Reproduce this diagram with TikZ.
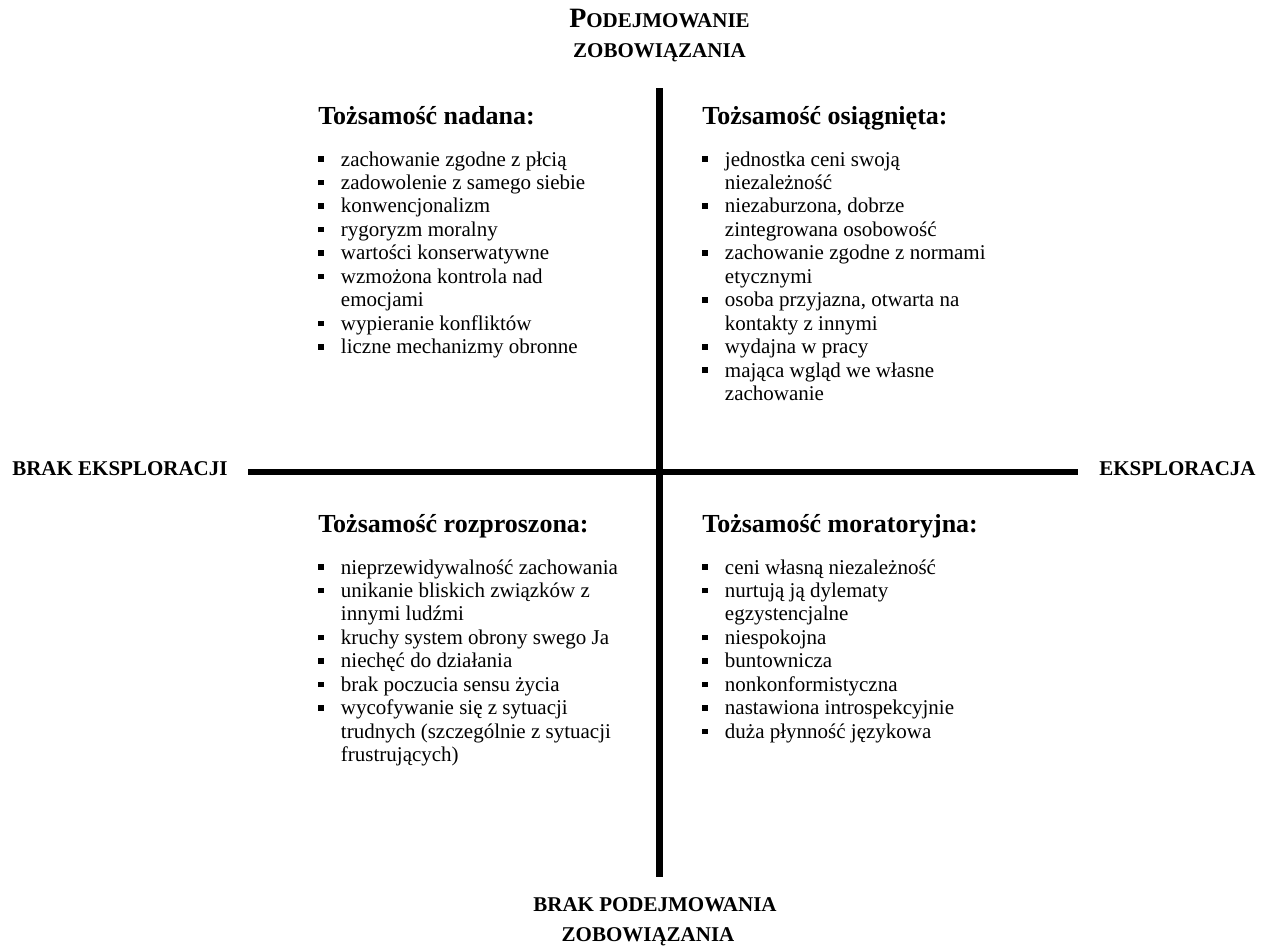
\documentclass[tikz,border=0pt]{standalone}
\usepackage{fontspec}
\setmainfont{Liberation Serif}
\usepackage{array}

% small square bullet
\newcommand{\sqb}{\rule[3.1pt]{4.2pt}{4.2pt}}
\newcommand{\itm}[1]{\sqb & #1\\}
\newcommand{\cnt}[1]{ & #1\\}
\newenvironment{blist}{\fontsize{15.75pt}{17.6pt}\selectfont\begin{tabular}[t]{@{}p{17pt}@{}l@{}}}{\end{tabular}}

\tikzset{
  axis/.style={line width=4.8pt},
  head/.style={anchor=base west, inner sep=0pt, font=\fontsize{19.5pt}{23pt}\selectfont\bfseries},
  lst/.style={anchor=base west, inner sep=0pt},
  axlabel/.style={inner sep=0pt, font=\fontsize{15.75pt}{18pt}\selectfont\bfseries},
}

\begin{document}
\begin{tikzpicture}[x=0.75pt, y=-0.75pt]
\useasboundingbox (0,0) rectangle (1266,946);

% axis ends
\coordinate (vTop) at (659.5,88);
\coordinate (vBot) at (659.5,877);
\coordinate (hLeft) at (248,472);
\coordinate (hRight) at (1078,472);

\draw[axis] (vTop) -- (vBot);
\draw[axis] (hLeft) -- (hRight);

% axis labels
\node[axlabel, anchor=base] (topA) at (659.5,27) {{\fontsize{21pt}{24pt}\selectfont P}ODEJMOWANIE};
\node[axlabel, anchor=base] (topB) at (659.5,57) {ZOBOWIĄZANIA};
\node[axlabel, anchor=base] (botA) at (655,911) {BRAK PODEJMOWANIA};
\node[axlabel, anchor=base] (botB) at (648,941) {ZOBOWIĄZANIA};
\node[axlabel, anchor=base west] (leftL) at (12,475) {BRAK EKSPLORACJI};
\node[axlabel, anchor=base west] (rightL) at (1099,475) {EKSPLORACJA};

% upper left quadrant
\node[head] (hTL) at (318,124) {Tożsamość nadana:};
\node[lst] (lTL) at (318,166) {\begin{blist}
\itm{zachowanie zgodne z płcią}
\itm{zadowolenie z samego siebie}
\itm{konwencjonalizm}
\itm{rygoryzm moralny}
\itm{wartości konserwatywne}
\itm{wzmożona kontrola nad}
\cnt{emocjami}
\itm{wypieranie konfliktów}
\itm{liczne mechanizmy obronne}
\end{blist}};

% upper right quadrant
\node[head] (hTR) at (702,124) {Tożsamość osiągnięta:};
\node[lst] (lTR) at (702,166) {\begin{blist}
\itm{jednostka ceni swoją}
\cnt{niezależność}
\itm{niezaburzona, dobrze}
\cnt{zintegrowana osobowość}
\itm{zachowanie zgodne z normami}
\cnt{etycznymi}
\itm{osoba przyjazna, otwarta na}
\cnt{kontakty z innymi}
\itm{wydajna w pracy}
\itm{mająca wgląd we własne}
\cnt{zachowanie}
\end{blist}};

% lower left quadrant
\node[head] (hBL) at (318,532) {Tożsamość rozproszona:};
\node[lst] (lBL) at (318,574) {\begin{blist}
\itm{nieprzewidywalność zachowania}
\itm{unikanie bliskich związków z}
\cnt{innymi ludźmi}
\itm{kruchy system obrony swego Ja}
\itm{niechęć do działania}
\itm{brak poczucia sensu życia}
\itm{wycofywanie się z sytuacji}
\cnt{trudnych (szczególnie z sytuacji}
\cnt{frustrujących)}
\end{blist}};

% lower right quadrant
\node[head] (hBR) at (702,532) {Tożsamość moratoryjna:};
\node[lst] (lBR) at (702,574) {\begin{blist}
\itm{ceni własną niezależność}
\itm{nurtują ją dylematy}
\cnt{egzystencjalne}
\itm{niespokojna}
\itm{buntownicza}
\itm{nonkonformistyczna}
\itm{nastawiona introspekcyjnie}
\itm{duża płynność językowa}
\end{blist}};
\end{tikzpicture}
\end{document}
